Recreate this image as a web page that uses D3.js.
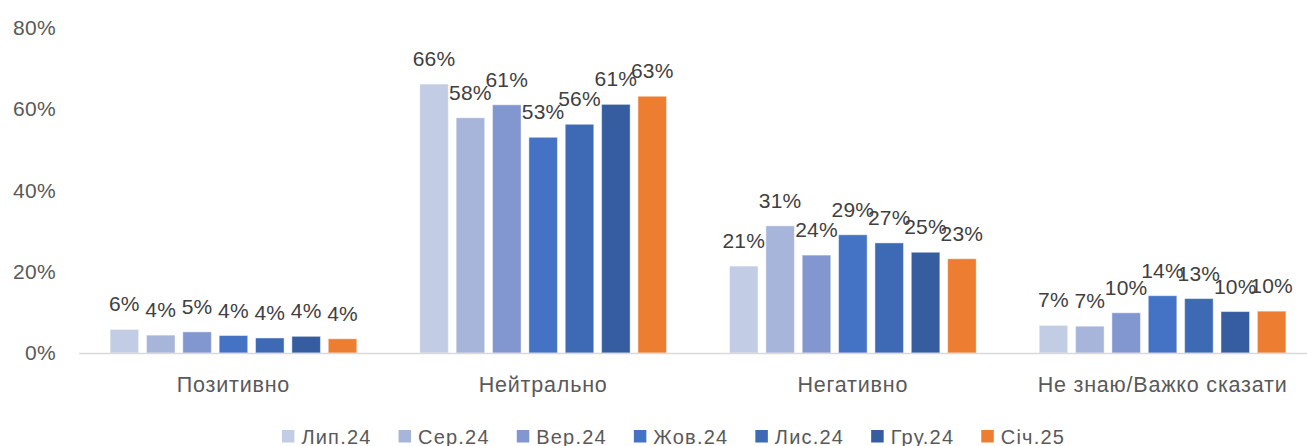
<!DOCTYPE html>
<html>
<head>
<meta charset="utf-8">
<script src="https://cdn.jsdelivr.net/npm/d3@7/dist/d3.min.js"></script>
<style>
  html, body { margin: 0; padding: 0; background: #ffffff; }
  svg { display: block; font-family: "Liberation Sans", Arial, sans-serif; }
</style>
</head>
<body>
<svg id="chart" width="1307" height="446"></svg>
<script>
// Response categories along the x axis
const categories = ["Позитивно", "Нейтрально", "Негативно", "Не знаю/Важко сказати"];

// Survey waves (one bar per wave inside each category)
const waves = ["Лип.24", "Сер.24", "Вер.24", "Жов.24", "Лис.24", "Гру.24", "Січ.25"];

// Shares per wave, listed in the order of `categories`
const lyp24 = [0.058, 0.662, 0.214, 0.068];
const ser24 = [0.044, 0.579, 0.313, 0.066];
const ver24 = [0.052, 0.611, 0.241, 0.099];
const zhov24 = [0.043, 0.531, 0.291, 0.141];
const lys24 = [0.037, 0.563, 0.271, 0.134];
const hru24 = [0.041, 0.612, 0.248, 0.102];
const sich25 = [0.035, 0.632, 0.232, 0.103];

// Y axis tick values
const yTicks = [0, 0.2, 0.4, 0.6, 0.8];

const seriesValues = [lyp24, ser24, ver24, zhov24, lys24, hru24, sich25];
const colors = ["#C3CCE5", "#A7B5DB", "#8297CF", "#4472C4", "#3E69B5", "#355D9F", "#ED7D31"];

const svg = d3.select("#chart");
const pct = d3.format(".0%");

const y = d3.scaleLinear().domain([0, 0.8]).range([353, 28]);

const x0 = d3.scaleBand()
  .domain(categories)
  .range([78.6, 78.6 + 4 * 309.7])
  .padding(0);

const x1 = d3.scaleBand()
  .domain(waves)
  .range([31.5, x0.bandwidth() - 31.5])
  .paddingInner(0.215);

// Y axis labels (no axis line, no gridlines)
const yAxis = d3.axisLeft(y)
  .tickValues(yTicks)
  .tickFormat(d3.format(".0%"))
  .tickSize(0)
  .tickPadding(0);

const yg = svg.append("g")
  .attr("transform", "translate(56,0)")
  .call(yAxis);
yg.select(".domain").remove();
yg.selectAll("text")
  .attr("fill", "#595959")
  .style("font-size", "21px")
  .style("letter-spacing", "0.3px")
  .style("font-family", "'Liberation Sans', Arial, sans-serif");

// Bars
const groups = svg.append("g")
  .selectAll("g")
  .data(categories)
  .join("g")
  .attr("transform", d => `translate(${x0(d)},0)`);

const cells = groups.selectAll("g.cell")
  .data((c, ci) => waves.map((w, wi) => ({ wave: w, wi, value: seriesValues[wi][ci] })))
  .join("g")
  .attr("class", "cell");

cells.append("rect")
  .attr("x", d => x1(d.wave))
  .attr("y", d => y(d.value))
  .attr("width", x1.bandwidth())
  .attr("height", d => y(0) - y(d.value))
  .attr("fill", d => colors[d.wi])
  .attr("stroke", "rgba(255,255,255,0.45)")
  .attr("stroke-width", 1);

// Value labels above each bar
cells.append("text")
  .attr("x", d => x1(d.wave) + x1.bandwidth() / 2)
  .attr("y", d => y(d.value) - 18)
  .attr("text-anchor", "middle")
  .attr("fill", "#404040")
  .style("font-size", "21px")
  .style("letter-spacing", "0.2px")
  .text(d => pct(d.value));

// Category axis: baseline and labels
const xAxis = d3.axisBottom(x0).tickSize(0).tickPadding(0);
const xg = svg.append("g")
  .attr("transform", `translate(0,${y(0)})`)
  .call(xAxis);
xg.select(".domain")
  .attr("stroke", "#D9D9D9")
  .attr("stroke-width", 1.5);
xg.selectAll("text")
  .attr("fill", "#595959")
  .attr("dy", null)
  .attr("y", 38.5)
  .style("font-size", "21.5px")
  .style("letter-spacing", "0.8px")
  .style("font-family", "'Liberation Sans', Arial, sans-serif");

// Legend, centred below the plot
const legend = svg.append("g");
const items = legend.selectAll("g")
  .data(waves)
  .join("g");

items.append("rect")
  .attr("width", 12.5)
  .attr("height", 12.5)
  .attr("y", 430)
  .attr("fill", (d, i) => colors[i]);

items.append("text")
  .attr("x", 19.5)
  .attr("y", 443.5)
  .attr("fill", "#595959")
  .style("font-size", "20px")
  .style("letter-spacing", "1.2px")
  .text(d => d);

let cursor = 0;
const gap = 27;
items.each(function () {
  const w = d3.select(this).select("text").node().getComputedTextLength();
  d3.select(this).attr("data-x", cursor);
  cursor += 19.5 + w + gap;
});
const total = cursor - gap;
const startX = 673.5 - total / 2;
items.attr("transform", function () {
  return `translate(${startX + (+d3.select(this).attr("data-x"))},0)`;
});
</script>
</body>
</html>
